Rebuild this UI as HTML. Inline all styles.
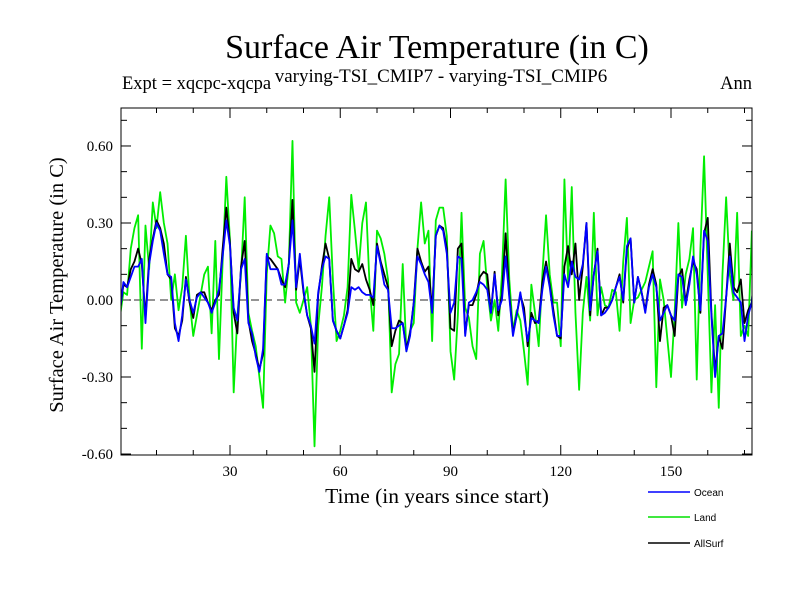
<!DOCTYPE html>
<html><head><meta charset="utf-8"><style>
body{margin:0;background:#fff;}
svg{display:block;}
text{font-family:"Liberation Serif",serif;fill:#000;}
</style></head><body>
<svg id="chart" width="800" height="600">
<text x="437" y="58" font-size="34" text-anchor="middle">Surface Air Temperature (in C)</text>
<text x="122" y="89" font-size="18.5">Expt = xqcpc-xqcpa</text>
<text x="441" y="82" font-size="19" text-anchor="middle">varying-TSI_CMIP7 - varying-TSI_CMIP6</text>
<text x="752" y="89" font-size="18.5" text-anchor="end">Ann</text>
<text transform="translate(63,285) rotate(-90)" font-size="20.5" text-anchor="middle">Surface Air Temperature (in C)</text>
<text x="437" y="503" font-size="21.5" text-anchor="middle">Time (in years since start)</text>
<g id="axes"></g>
<g id="series"></g>
<rect x="121" y="108" width="631" height="347" fill="none" stroke="#000" stroke-width="1"/>
<g id="legend"></g>
</svg>
<script>
const yTicks=[-0.6,-0.3,0,0.3,0.6];
const yTickLabels=["-0.60","-0.30","0.00","0.30","0.60"];
const xTicks=[30,60,90,120,150];
const ocean=[-0.05,0.07,0.05,0.09,0.13,0.13,0.16,-0.09,0.14,0.23,0.30,0.27,0.18,0.10,0.09,-0.09,-0.16,-0.06,0.08,0.00,-0.05,0.01,0.03,0.01,-0.01,-0.05,-0.01,0.04,0.17,0.31,0.21,-0.03,-0.08,0.12,0.16,-0.09,-0.13,-0.22,-0.28,-0.19,0.18,0.12,0.12,0.12,0.06,0.06,0.14,0.31,0.05,0.18,0.04,-0.06,-0.10,-0.17,0.03,0.12,0.17,0.16,-0.08,-0.12,-0.15,-0.10,-0.05,0.05,0.04,0.05,0.03,0.02,0.02,0.01,0.21,0.14,0.06,0.04,-0.11,-0.11,-0.10,-0.09,-0.20,-0.14,-0.01,0.17,0.14,0.10,0.07,-0.05,0.25,0.29,0.27,0.18,-0.05,-0.01,0.17,0.16,-0.14,-0.01,0.00,0.03,0.07,0.06,0.04,-0.05,0.10,-0.04,0.00,0.17,0.01,-0.14,-0.06,0.03,-0.06,-0.16,-0.07,-0.08,-0.09,0.04,0.13,0.05,-0.06,-0.14,-0.14,0.10,0.05,0.15,0.09,0.08,0.14,0.30,-0.04,0.10,0.19,-0.06,-0.05,-0.03,0.00,0.05,0.09,0.00,0.21,0.24,-0.01,0.09,0.03,-0.05,0.05,0.10,0.05,-0.08,-0.05,-0.02,-0.06,-0.08,0.10,0.09,-0.02,0.06,0.17,0.10,-0.04,0.27,0.23,-0.06,-0.30,-0.14,-0.13,0.01,0.17,0.03,0.01,-0.01,-0.16,-0.06,-0.01,0.18];
const land=[-0.07,0.03,0.02,0.20,0.28,0.33,-0.19,0.29,0.12,0.38,0.28,0.42,0.30,0.22,0.00,0.10,-0.04,0.05,0.25,0.00,-0.14,-0.06,0.02,0.10,0.13,-0.13,0.23,-0.23,0.15,0.48,0.23,-0.36,-0.06,0.10,0.40,-0.05,-0.12,-0.18,-0.30,-0.42,0.10,0.29,0.26,0.17,0.16,-0.01,0.14,0.62,-0.01,-0.05,0.00,0.05,-0.10,-0.57,-0.10,0.05,0.25,0.40,0.08,-0.16,-0.12,-0.06,0.05,0.41,0.27,0.12,0.30,0.38,0.05,-0.12,0.27,0.24,0.18,0.08,-0.36,-0.25,-0.21,0.14,-0.20,-0.12,-0.09,0.20,0.38,0.22,0.27,-0.16,0.31,0.36,0.36,0.25,-0.20,-0.31,-0.06,0.34,-0.03,-0.07,-0.18,-0.23,0.18,0.23,0.05,-0.08,0.00,-0.12,0.10,0.47,0.08,-0.12,-0.04,-0.08,-0.20,-0.33,0.06,-0.05,-0.18,0.10,0.33,0.10,-0.01,-0.01,-0.18,0.47,0.07,0.44,-0.05,-0.35,-0.05,0.09,-0.08,0.34,-0.06,0.05,-0.02,-0.03,0.04,0.03,-0.12,0.15,0.32,-0.09,0.00,0.01,0.04,0.07,0.13,0.19,-0.34,0.08,0.00,-0.15,-0.30,-0.05,0.30,-0.03,0.10,0.16,0.28,-0.31,0.20,0.56,0.10,-0.36,-0.02,-0.42,0.10,0.40,0.10,0.00,0.34,-0.14,-0.10,-0.14,0.27];
const allsurf=[-0.05,0.06,0.05,0.12,0.15,0.20,0.14,-0.07,0.16,0.24,0.31,0.28,0.22,0.10,0.08,-0.11,-0.14,-0.08,0.09,-0.01,-0.07,0.02,0.03,0.03,-0.01,-0.04,0.00,0.02,0.20,0.36,0.22,-0.05,-0.13,0.13,0.23,-0.08,-0.16,-0.21,-0.27,-0.21,0.17,0.16,0.14,0.12,0.08,0.05,0.14,0.39,0.04,0.16,0.03,-0.06,-0.11,-0.28,0.02,0.13,0.22,0.16,-0.08,-0.12,-0.15,-0.10,-0.04,0.16,0.12,0.11,0.14,0.08,0.04,-0.02,0.22,0.15,0.10,0.05,-0.18,-0.12,-0.08,-0.09,-0.19,-0.13,-0.01,0.20,0.15,0.11,0.13,-0.04,0.25,0.29,0.28,0.20,-0.11,-0.12,0.20,0.22,-0.13,-0.02,-0.02,0.02,0.09,0.11,0.10,-0.05,0.11,-0.06,0.02,0.26,0.02,-0.13,-0.06,0.02,-0.03,-0.18,-0.05,-0.09,-0.08,0.07,0.15,0.06,-0.04,-0.14,-0.15,0.13,0.21,0.10,0.22,0.00,0.13,0.30,-0.06,0.10,0.20,-0.06,-0.03,-0.03,0.00,0.05,0.10,-0.01,0.20,0.24,-0.01,0.09,0.03,-0.04,0.06,0.12,0.06,-0.16,-0.03,-0.02,-0.06,-0.14,0.09,0.12,-0.01,0.08,0.15,0.12,-0.05,0.26,0.32,-0.05,-0.28,-0.14,-0.19,0.01,0.22,0.05,0.03,0.08,-0.09,-0.04,-0.01,0.18];
const years=ocean.map((_, i)=>i);
const NS="http://www.w3.org/2000/svg";
const X0=121,X1=752,Y0=108,Y1=455;
function xs(t){return 119.75+3.675*t;}
function ys(v){return 300-256.7*v;}
function mk(tag,attrs,parent){const e=document.createElementNS(NS,tag);for(const k in attrs)e.setAttribute(k,attrs[k]);parent.appendChild(e);return e;}
const axes=document.getElementById('axes');
for(let k=-6;k<=7;k++){const y=ys(k/10);if(y<Y0||y>Y1)continue;
 const major=(k%3===0);const len=major?10:6;
 const a=mk('line',{x1:X0,x2:X0+len,y1:y,y2:y,stroke:'#000','stroke-width':1},axes);
 
 
 const b=mk('line',{x1:X1-len,x2:X1,y1:y,y2:y,stroke:'#000','stroke-width':1},axes);
 
 }
yTicks.forEach((v,i)=>{const t=mk('text',{x:113,y:ys(v)+5,'font-size':15,'text-anchor':'end'},axes);t.textContent=yTickLabels[i];
 
 });
for(let t=10;t<=170;t+=10){const x=xs(t);const major=(t%30===0);const len=major?10:5;
 const a=mk('line',{x1:x,x2:x,y1:Y1-len,y2:Y1,stroke:'#000','stroke-width':1},axes);
 
 
 const b=mk('line',{x1:x,x2:x,y1:Y0,y2:Y0+len,stroke:'#000','stroke-width':1},axes);
 
 }
xTicks.forEach(v=>{const t=mk('text',{x:xs(v),y:476,'font-size':15,'text-anchor':'middle'},axes);t.textContent=v;
 
 });
const zl=mk('line',{x1:X0,x2:X1,y1:ys(0),y2:ys(0),stroke:'#555','stroke-width':1.2,'stroke-dasharray':'8,5'},axes);


const ser=document.getElementById('series');
const cp=mk('clipPath',{id:'clip'},ser);
mk('rect',{x:X0,y:Y0,width:X1-X0,height:Y1-Y0},cp);
function line(vals,color,w,name){const d=vals.map((v,i)=>(i?'L':'M')+xs(years[i]).toFixed(2)+','+ys(v).toFixed(2)).join('');
 const p=mk('path',{d:d,fill:'none',stroke:color,'stroke-width':w,'clip-path':'url(#clip)','stroke-linejoin':'round'},ser);
 
 }
line(land,'#00ee00',1.8,'land-line');
line(allsurf,'#000',1.8,'allsurf-line');
line(ocean,'#0000ff',1.8,'ocean-line');
const lg=document.getElementById('legend');
[['Ocean','#0000ff',492],['Land','#00e000',517],['AllSurf','#000',543]].forEach(([n,c,y])=>{
 const g=mk('g',{},lg);
 
 
 mk('line',{x1:648,x2:690,y1:y,y2:y,stroke:c,'stroke-width':1.5},g);
 const t=mk('text',{x:694,y:y+4,'font-size':10},g);t.style.fontFamily='"Liberation Sans",sans-serif';t.textContent=n;});
</script>
</body></html>
